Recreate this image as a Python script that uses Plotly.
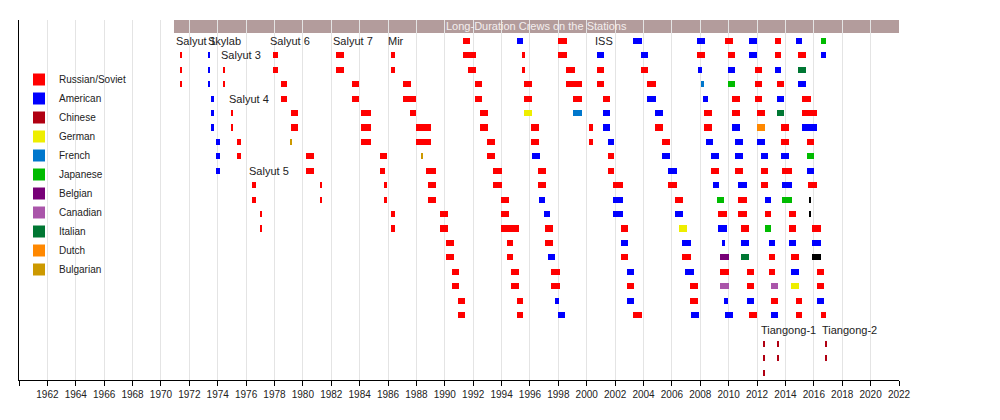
import plotly.graph_objects as go

# each entry: (start year, end year, rows the crew members occupy)
russian = [
    (1971.39, 1971.50, [1, 2, 3]),
    (1974.42, 1974.54, [2, 3]),
    (1974.98, 1975.10, [5, 6]), (1975.33, 1975.62, [7, 8]),
    (1976.39, 1976.67, [10, 11]), (1977.02, 1977.14, [12, 13]),
    (1977.87, 1978.22, [1, 2]), (1978.43, 1978.85, [3, 4]), (1979.14, 1979.63, [5, 6]),
    (1980.22, 1980.80, [8, 9]), (1981.20, 1981.37, [10, 11]),
    (1982.31, 1982.92, [1, 2]), (1983.43, 1983.92, [3, 4]), (1984.07, 1984.77, [5, 6, 7]),
    (1985.40, 1985.90, [8]), (1985.40, 1985.76, [9]), (1985.69, 1985.90, [10, 11]),
    (1986.20, 1986.50, [12, 13, 1, 2]),
    (1987.02, 1987.59, [3]), (1987.02, 1988.00, [4]), (1987.52, 1988.00, [5]),
    (1987.96, 1989.00, [6, 7]), (1988.64, 1989.35, [9]), (1988.85, 1989.35, [10, 11]),
    (1989.63, 1990.19, [12, 13]), (1990.05, 1990.62, [14, 15]), (1990.54, 1990.97, [16, 17]),
    (1990.90, 1991.39, [18, 19]),
    (1991.29, 1991.79, [0]), (1991.29, 1992.21, [1]), (1991.65, 1992.21, [2]),
    (1992.14, 1992.64, [3, 4]), (1992.50, 1993.06, [5, 6]), (1992.99, 1993.55, [7, 8]),
    (1993.41, 1994.02, [9, 10]), (1993.98, 1994.54, [11, 12]), (1993.98, 1995.25, [13]),
    (1994.40, 1994.82, [14, 15]), (1994.68, 1995.25, [16, 17]), (1995.10, 1995.53, [18, 19]),
    (1995.46, 1995.67, [1, 2]), (1995.60, 1996.16, [3, 4]), (1996.10, 1996.66, [6, 7]),
    (1996.59, 1997.15, [9, 10]), (1997.08, 1997.65, [13, 14]), (1997.50, 1998.14, [16, 17]),
    (1998.00, 1998.64, [0, 1]), (1998.56, 1999.20, [2]), (1998.56, 1999.69, [3]),
    (1999.06, 1999.69, [4]), (2000.19, 2000.47, [6, 7]),
    (2000.75, 2001.25, [2, 3]), (2001.11, 2001.67, [4]), (2001.53, 2001.95, [8, 9]),
    (2001.88, 2002.52, [10]), (2002.38, 2002.94, [13, 15]), (2002.87, 2003.36, [17]),
    (2003.29, 2003.86, [19]), (2003.79, 2004.35, [2]), (2004.28, 2004.85, [3]),
    (2004.78, 2005.34, [6]), (2005.28, 2005.84, [7]), (2005.70, 2006.33, [10]),
    (2006.19, 2006.75, [11]), (2006.68, 2007.31, [15]), (2007.24, 2007.81, [17, 18]),
    (2007.76, 2008.35, [1]), (2008.23, 2008.84, [5, 6]), (2008.72, 2009.29, [9]),
    (2009.22, 2009.85, [12]), (2009.36, 2009.99, [16]), (2009.71, 2010.27, [0]),
    (2009.92, 2010.48, [1]), (2010.20, 2010.77, [4, 5]), (2010.41, 2010.98, [9]),
    (2010.69, 2011.26, [11, 12]), (2010.90, 2011.40, [13]), (2011.26, 2011.75, [16, 17]),
    (2011.40, 2011.96, [19]), (2011.82, 2012.38, [2, 3, 4]), (2011.96, 2012.53, [5]),
    (2012.31, 2012.74, [9, 10]), (2012.53, 2012.95, [12]), (2012.81, 2013.23, [15, 16]),
    (2012.95, 2013.44, [18]), (2013.23, 2013.72, [0, 1]), (2013.37, 2013.93, [3]),
    (2013.72, 2014.22, [6, 7]), (2013.79, 2014.43, [9]), (2014.22, 2014.71, [12, 13]),
    (2014.36, 2014.92, [15]), (2014.71, 2015.20, [18, 19]), (2014.85, 2015.48, [1]),
    (2015.20, 2015.77, [4]), (2015.20, 2016.19, [5]), (2015.55, 2015.98, [7]),
    (2015.62, 2016.19, [10]), (2015.90, 2016.47, [13]), (2016.19, 2016.75, [16, 17]),
    (2016.47, 2016.89, [19]),
]
american = [
    (1973.36, 1973.48, [1, 2, 3]), (1973.50, 1973.76, [4, 5, 6]), (1973.88, 1974.14, [7, 8, 9]),
    (1995.10, 1995.53, [0]), (1996.17, 1996.73, [8]), (1996.66, 1997.08, [11]),
    (1997.01, 1997.43, [12]), (1997.29, 1997.79, [15]), (1997.79, 1998.05, [18]),
    (1998.00, 1998.50, [19]),
    (2000.75, 2001.25, [1]), (2001.11, 2001.67, [5, 6]), (2001.53, 2001.95, [7]),
    (2001.88, 2002.52, [11, 12]), (2002.38, 2002.94, [14]), (2002.87, 2003.36, [16, 18]),
    (2003.29, 2003.86, [0]), (2003.79, 2004.35, [1]), (2004.28, 2004.85, [4]),
    (2004.78, 2005.34, [5]), (2005.28, 2005.84, [8]), (2005.70, 2006.33, [9]),
    (2006.19, 2006.75, [12]), (2006.68, 2007.31, [14]), (2006.89, 2007.53, [16]),
    (2007.38, 2007.88, [19]), (2007.76, 2008.35, [0]), (2007.83, 2008.14, [2]),
    (2008.16, 2008.51, [4]), (2008.39, 2008.93, [7]), (2008.72, 2009.29, [8]),
    (2008.86, 2009.29, [10]), (2009.22, 2009.85, [13]), (2009.50, 2009.71, [14]),
    (2009.64, 2009.92, [18]), (2009.71, 2010.27, [19]), (2009.92, 2010.48, [2]),
    (2010.20, 2010.77, [6]), (2010.41, 2010.98, [7, 8]), (2010.69, 2011.26, [10]),
    (2010.90, 2011.40, [14]), (2011.26, 2011.75, [18]), (2011.40, 2011.96, [0, 1]),
    (2011.96, 2012.53, [7]), (2012.31, 2012.74, [8]), (2012.53, 2012.95, [11]),
    (2012.81, 2013.23, [14]), (2012.95, 2013.44, [19]), (2013.23, 2013.72, [2]),
    (2013.37, 2013.93, [4]), (2013.72, 2014.22, [8]), (2013.79, 2014.43, [10]),
    (2014.22, 2014.71, [14]), (2014.36, 2014.92, [16]), (2014.71, 2015.20, [0]),
    (2014.85, 2015.48, [3]), (2015.20, 2016.19, [6]), (2015.55, 2015.98, [9]),
    (2015.90, 2016.47, [14]), (2016.19, 2016.75, [18]), (2016.47, 2016.89, [1]),
]
chinese = [(2012.46, 2012.52, [21, 22, 23]), (2013.44, 2013.50, [21, 22]), (2016.80, 2016.88, [21, 22])]
german = [(1995.60, 1996.16, [5]), (2006.47, 2007.03, [13]), (2014.36, 2014.92, [17])]
french = [(1999.06, 1999.69, [5]), (2008.07, 2008.28, [3])]
japanese = [(2009.15, 2009.64, [11]), (2009.92, 2010.48, [3]), (2012.53, 2012.95, [13]),
            (2013.79, 2014.43, [11]), (2015.55, 2015.98, [8]), (2016.47, 2016.89, [0])]
belgian = [(2009.36, 2009.99, [15])]
canadian = [(2009.36, 2009.99, [17]), (2012.95, 2013.44, [17])]
italian = [(2010.90, 2011.40, [15]), (2013.37, 2013.93, [5]), (2014.85, 2015.48, [2])]
dutch = [(2011.96, 2012.53, [6])]
bulgarian = [(1979.14, 1979.24, [7]), (1988.36, 1988.48, [8])]
other = [(2015.66, 2015.76, [11, 12]), (2015.90, 2016.47, [15])]

nations = [
    ("Russian/Soviet", russian, "#ff0000"),
    ("American", american, "#0000ff"),
    ("Chinese", chinese, "#b00012"),
    ("German", german, "#eeee00"),
    ("French", french, "#0077cc"),
    ("Japanese", japanese, "#00bb00"),
    ("Belgian", belgian, "#770077"),
    ("Canadian", canadian, "#aa55aa"),
    ("Italian", italian, "#007733"),
    ("Dutch", dutch, "#ff8800"),
    ("Bulgarian", bulgarian, "#cc9900"),
    ("Other", other, "#000000"),
]

station_labels = [
    ("Salyut 1", 1971.06, 0), ("Skylab", 1973.3, 0), ("Salyut 6", 1977.68, 0),
    ("Salyut 7", 1982.12, 0), ("Mir", 1986.0, 0), ("ISS", 2000.58, 0),
    ("Salyut 3", 1974.23, 1), ("Salyut 4", 1974.8, 4), ("Salyut 5", 1976.2, 9),
    ("Tiangong-1", 2012.27, 20), ("Tiangong-2", 2016.57, 20),
]

fig = go.Figure()
for name, crews, color in nations:
    rows, bases, lengths = [], [], []
    for start, end, crew_rows in crews:
        for r in crew_rows:
            rows.append(r)
            bases.append(start)
            lengths.append(end - start)
    fig.add_trace(go.Bar(
        y=rows, x=lengths, base=bases, orientation='h', width=0.42,
        marker=dict(color=color, line=dict(width=0)),
        name=name, showlegend=(name != "Other"), hoverinfo='skip'
    ))

for text, x, row in station_labels:
    fig.add_annotation(x=x, y=row, text=text, showarrow=False, xanchor='left',
                       yanchor='middle', xshift=-2, font=dict(size=11, color="#222"))

fig.add_shape(type='rect', x0=1970.92, x1=2022, y0=-1.45, y1=-0.55,
              fillcolor="#b39c9c", line=dict(width=0), layer='below')
fig.add_annotation(x=1996.46, y=-1.0, text="Long-Duration Crews on the Stations",
                   showarrow=False, font=dict(size=11, color="#f4eeee"))

fig.update_layout(
    width=1000, height=420,
    margin=dict(l=11, r=109, t=12, b=48),
    plot_bgcolor='white', paper_bgcolor='white',
    barmode='overlay', bargap=0,
    font=dict(family="Liberation Sans, Arial, sans-serif", size=11, color="#222"),
    legend=dict(x=0.0, y=0.875, xanchor='left', yanchor='top',
                bgcolor='rgba(0,0,0,0)', font=dict(size=10), tracegroupgap=0,
                itemwidth=30),
    xaxis=dict(range=[1960, 2022], tickvals=list(range(1960, 2023, 2)),
               showgrid=True, gridcolor="#e4e4e4", gridwidth=1,
               showline=True, linecolor='black', linewidth=1,
               ticks='outside', ticklen=5, tickcolor='black',
               tickfont=dict(size=10), zeroline=False),
    yaxis=dict(range=[23.5, -1.45], showticklabels=False, ticks='',
               showgrid=False, zeroline=False,
               showline=True, linecolor='black', linewidth=1),
)

fig.write_html("out.html")
